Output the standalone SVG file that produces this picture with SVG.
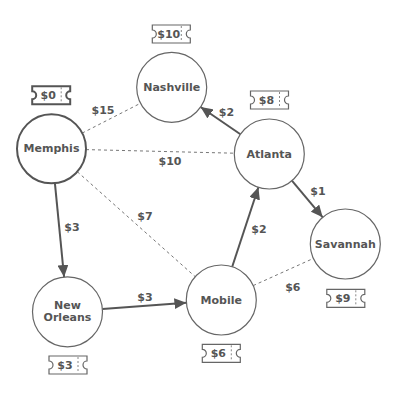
<svg xmlns="http://www.w3.org/2000/svg" width="400" height="400" viewBox="0 0 400 400">
  <style>
    .node circle { fill: #ffffff; stroke: #666666; stroke-width: 1.2; }
    .node.start circle { stroke: #555555; stroke-width: 2; }
    .label { font-family: "DejaVu Sans", "Liberation Sans", sans-serif; font-weight: bold; font-size: 11px; fill: #555555; text-anchor: middle; dominant-baseline: central; }
    .ticket path { fill: #ffffff; stroke: #666666; stroke-width: 1.2; }
    .ticket.start path { stroke: #555555; stroke-width: 2; }
    .ticket line { stroke: #888888; stroke-width: 1; stroke-dasharray: 2 2; }
    .road { stroke: #555555; stroke-width: 2; fill: none; marker-end: url(#arrow); }
    .option { stroke: #777777; stroke-width: 1; fill: none; stroke-dasharray: 3 3; }
  </style>
  <defs>
    <marker id="arrow" markerUnits="userSpaceOnUse" markerWidth="13" markerHeight="11" refX="12" refY="5.5" orient="auto">
      <path d="M0,0 L12,5.5 L0,11 Z" fill="#555555"/>
    </marker>
  </defs>

  <rect width="400" height="400" fill="#ffffff"/>

  <!-- connectors -->
  <g id="edges">
    <line class="option" x1="82.2" y1="133.1" x2="140.6" y2="103.2"/>
    <line class="option" x1="86" y1="149.6" x2="234.3" y2="153.2"/>
    <line class="option" x1="77.3" y1="171.7" x2="195.2" y2="276.7"/>
    <line class="option" x1="253.2" y1="285.6" x2="313.4" y2="258.4"/>
    <line class="road" x1="54.9" y1="183.1" x2="64.1" y2="277"/>
    <line class="road" x1="102.4" y1="309.1" x2="186.4" y2="302.7"/>
    <line class="road" x1="232.2" y1="266.8" x2="258.4" y2="187.3"/>
    <line class="road" x1="240.4" y1="134.3" x2="200.6" y2="107"/>
    <line class="road" x1="291.9" y1="180.7" x2="322.7" y2="217.3"/>
    <text class="label" x="103" y="110.5">$15</text>
    <text class="label" x="170" y="161.7">$10</text>
    <text class="label" x="145" y="216.5">$7</text>
    <text class="label" x="72" y="227.5">$3</text>
    <text class="label" x="145" y="297.5">$3</text>
    <text class="label" x="259" y="229.5">$2</text>
    <text class="label" x="226.5" y="112.5">$2</text>
    <text class="label" x="318" y="191.5">$1</text>
    <text class="label" x="292.8" y="287.7">$6</text>
  </g>

  <!-- cities, each with its fare ticket -->
  <g id="memphis" class="node start">
    <circle cx="51.5" cy="148.8" r="34.5"/>
    <text class="label" x="51.5" y="148.8">Memphis</text>
    <g class="ticket start" transform="translate(51.2,95.3)">
      <path d="M-19,-9 H19 V-4 A4,4 0 0 0 19,4 V9 H-19 V4 A4,4 0 0 0 -19,-4 Z"/>
      <line x1="10" y1="-8" x2="10" y2="8"/>
      <text class="label" x="-3" y="0">$0</text>
    </g>
  </g>

  <g id="nashville" class="node">
    <circle cx="171.7" cy="87.3" r="35"/>
    <text class="label" x="171.7" y="87.3">Nashville</text>
    <g class="ticket" transform="translate(171.3,34)">
      <path d="M-19,-9 H19 V-4 A4,4 0 0 0 19,4 V9 H-19 V4 A4,4 0 0 0 -19,-4 Z"/>
      <line x1="10" y1="-8" x2="10" y2="8"/>
      <text class="label" x="-2.5" y="0">$10</text>
    </g>
  </g>

  <g id="atlanta" class="node">
    <circle cx="269.3" cy="154" r="35"/>
    <text class="label" x="269.3" y="154">Atlanta</text>
    <g class="ticket" transform="translate(269.5,100)">
      <path d="M-19,-9 H19 V-4 A4,4 0 0 0 19,4 V9 H-19 V4 A4,4 0 0 0 -19,-4 Z"/>
      <line x1="10" y1="-8" x2="10" y2="8"/>
      <text class="label" x="-3" y="0">$8</text>
    </g>
  </g>

  <g id="savannah" class="node">
    <circle cx="345.3" cy="244" r="35"/>
    <text class="label" x="345.3" y="244">Savannah</text>
    <g class="ticket" transform="translate(345.8,298.3)">
      <path d="M-19,-9 H19 V-4 A4,4 0 0 0 19,4 V9 H-19 V4 A4,4 0 0 0 -19,-4 Z"/>
      <line x1="10" y1="-8" x2="10" y2="8"/>
      <text class="label" x="-3" y="0">$9</text>
    </g>
  </g>

  <g id="mobile" class="node">
    <circle cx="221.3" cy="300" r="35"/>
    <text class="label" x="221.3" y="300">Mobile</text>
    <g class="ticket" transform="translate(221.3,353.3)">
      <path d="M-19,-9 H19 V-4 A4,4 0 0 0 19,4 V9 H-19 V4 A4,4 0 0 0 -19,-4 Z"/>
      <line x1="10" y1="-8" x2="10" y2="8"/>
      <text class="label" x="-3" y="0">$6</text>
    </g>
  </g>

  <g id="new-orleans" class="node">
    <circle cx="67.5" cy="311.8" r="35"/>
    <text class="label" x="67.5" y="305.5">New</text>
    <text class="label" x="67.5" y="317.5">Orleans</text>
    <g class="ticket" transform="translate(68,365)">
      <path d="M-19,-9 H19 V-4 A4,4 0 0 0 19,4 V9 H-19 V4 A4,4 0 0 0 -19,-4 Z"/>
      <line x1="10" y1="-8" x2="10" y2="8"/>
      <text class="label" x="-3" y="0">$3</text>
    </g>
  </g>
</svg>
